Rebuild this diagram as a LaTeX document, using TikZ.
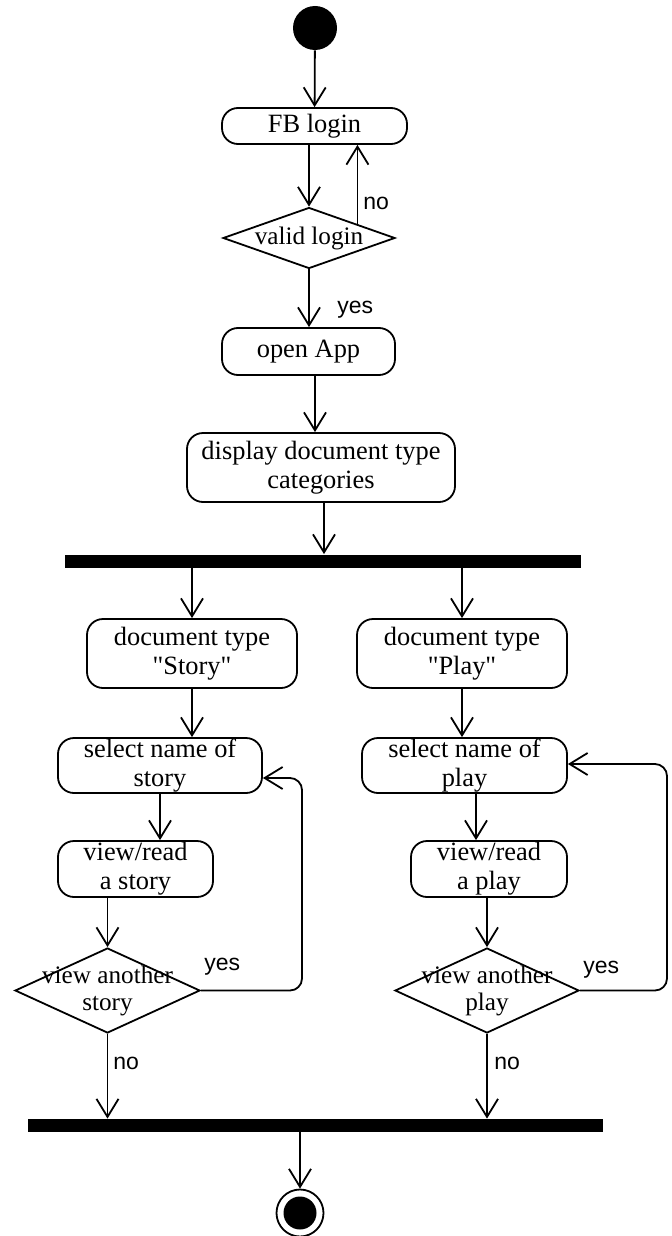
\documentclass[tikz,border=0pt]{standalone}
\usepackage{fontspec}
\setmainfont{Liberation Serif}
\newfontfamily\guardfont{Liberation Sans}
\usetikzlibrary{arrows.meta,shapes.geometric,calc}
\tikzset{
  action/.style={draw=black, rounded corners=8pt, align=center, inner sep=0pt, line width=0.9pt, font=\fontsize{13.2}{14.5}\selectfont},
  decision/.style={diamond, draw=black, inner sep=0pt, line width=0.9pt},
  dtext/.style={font=\fontsize{12.6}{13.5}\selectfont, align=center, inner sep=0pt},
  syncbar/.style={fill=black, inner sep=0pt, minimum height=6.5pt},
  initial/.style={circle, fill=black, inner sep=0pt, minimum size=22pt},
  final/.style={circle, draw=black, line width=0.9pt, inner sep=0pt, minimum size=23.5pt,
    path picture={\fill[black] (path picture bounding box.center) circle (8.25pt);}},
  flow/.style={-{Straight Barb[length=9pt,width=11pt]}, line width=0.9pt},
  guard/.style={font=\guardfont\fontsize{11.5}{13}\selectfont, anchor=west, inner sep=0pt}
}
\begin{document}
\begin{tikzpicture}[x=0.5pt, y=-0.5pt]
\useasboundingbox (0,0) rectangle (671,1236);
% login part
\node[initial] (start) at (315,28) {};
\node[action, minimum width=92.5pt, minimum height=18pt] (fb) at (314.5,126) {FB login};
\node[decision, minimum width=86pt, minimum height=30.5pt, label={[dtext]center:valid login}] (valid) at (309,238) {};
\node[action, minimum width=86.5pt, minimum height=23.5pt] (app) at (308.5,351.5) {open App};
\node[action, minimum width=134pt, minimum height=34.5pt] (disp) at (321,467.5) {display document type\\categories};
\node[syncbar, minimum width=258pt] (fork) at (323,561) {};
% story branch
\node[action, minimum width=105pt, minimum height=34.5pt] (story) at (192,653.5) {document type\\\textquotedbl Story\textquotedbl};
\node[action, minimum width=102pt, minimum height=27.5pt] (sels) at (160,765.5) {select name of\\story};
\node[action, minimum width=77.5pt, minimum height=28pt] (views) at (135.5,869) {view/read\\a story};
\node[decision, minimum width=92.5pt, minimum height=42.5pt, label={[dtext]center:{view another\\story}}] (decs) at (107.5,990.5) {};
% play branch
\node[action, minimum width=105pt, minimum height=34.5pt] (play) at (462,653.5) {document type\\\textquotedbl Play\textquotedbl};
\node[action, minimum width=102.5pt, minimum height=27.5pt] (selp) at (464.5,765.5) {select name of\\play};
\node[action, minimum width=78pt, minimum height=28pt] (viewp) at (489,869) {view/read\\a play};
\node[decision, minimum width=92pt, minimum height=42.5pt, label={[dtext]center:{view another\\play}}] (decp) at (487,990.5) {};
% end
\node[syncbar, minimum width=287.5pt] (join) at (315.5,1125.5) {};
\node[final] (end) at (300,1213) {};
\coordinate (backs) at (302,778);
\coordinate (backp) at (667,764);

\draw[flow] (start) -- (fb);
\draw[flow] (valid.north |- fb.south) -- (valid.north);
\draw[flow] (valid.16) -- (valid.16 |- fb.south);
\draw[flow] (valid.south) -- (valid.south |- app.north);
\draw[flow] ([xshift=3.25pt]app.south) -- ([xshift=3.25pt]app.south |- disp.north);
\draw[flow] ([xshift=1.5pt]disp.south) -- ([xshift=1.5pt]disp.south |- fork.north);
\draw[flow] (story.north |- fork.south) -- (story.north);
\draw[flow] (play.north |- fork.south) -- (play.north);
\draw[flow] (story.south) -- (story.south |- sels.north);
\draw[flow] (play.south) -- (play.south |- selp.north);
\draw[flow] (sels.south) -- (sels.south |- views.north);
\draw[flow] ([xshift=5.75pt]selp.south) -- ([xshift=5.75pt]selp.south |- viewp.north);
\draw[flow] (decs.north |- views.south) -- (decs.north);
\draw[flow] (decp.north |- viewp.south) -- (decp.north);
\draw[flow, rounded corners=6pt] (decs.east) -| (backs) -- (backs -| sels.east);
\draw[flow, rounded corners=6pt] (decp.east) -| (backp) -- (backp -| selp.east);
\draw[flow] (decs.south) -- (decs.south |- join.north);
\draw[flow] (decp.south) -- (decp.south |- join.north);
\draw[flow] (end.north |- join.south) -- (end.north);
% guards
\node[guard] (gno) at (363,203) {no};
\node[guard] (gyes) at (337,310) {yes};
\node[guard] (gyess) at (204,967) {yes};
\node[guard] (gnos) at (113,1063) {no};
\node[guard] (gyesp) at (583,970) {yes};
\node[guard] (gnop) at (494,1063) {no};
\end{tikzpicture}
\end{document}
